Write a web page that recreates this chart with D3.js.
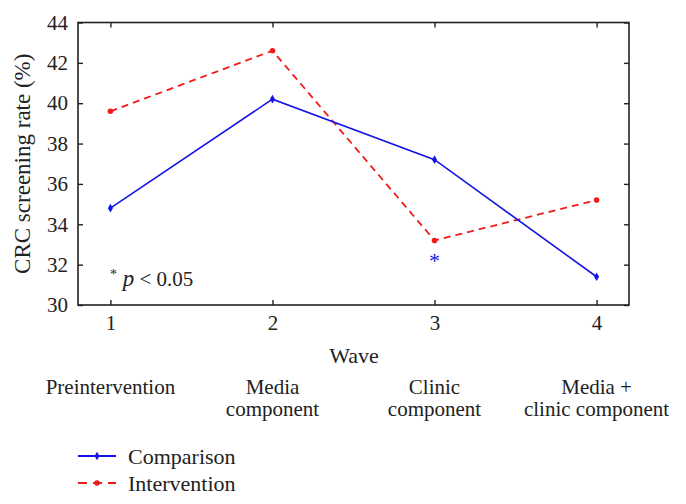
<!DOCTYPE html>
<html>
<head>
<meta charset="utf-8">
<script src="https://cdn.jsdelivr.net/npm/d3@7"></script>
<style>
  html, body { margin: 0; padding: 0; background: #fff; }
  svg text { font-family: "Liberation Serif", "DejaVu Serif", serif; fill: #222; }
</style>
</head>
<body>
<svg id="chart" width="686" height="504"></svg>
<script>
const waves = [1, 2, 3, 4];
const waveLabels = [["Preintervention"], ["Media", "component"], ["Clinic", "component"], ["Media +", "clinic component"]];
const comparison = [34.8, 40.2, 37.2, 31.4];
const intervention = [39.6, 42.6, 33.2, 35.2];
const yTicks = [30, 32, 34, 36, 38, 40, 42, 44];
const seriesNames = ["Comparison", "Intervention"];
const sigWave = 3;
const sigValue = 32.3;

(function () {
const svg = d3.select("#chart");
const pL = 78, pR = 629, pT = 22.5, pB = 305;
const x = d3.scaleLinear().domain([0.8, 4.2]).range([pL, pR]);
const y = d3.scaleLinear().domain([30, 44]).range([pB, pT]);
const blue = "#1414e6", red = "#f01c1c";
const fs = 21;
const ff = "Liberation Serif, DejaVu Serif, serif";

// frame
svg.append("rect").attr("x", pL).attr("y", pT).attr("width", pR - pL).attr("height", pB - pT)
  .attr("fill", "none").attr("stroke", "#222").attr("stroke-width", 1.6);

// axes (ticks inward)
const axB = d3.axisBottom(x).tickValues(waves).tickSize(-5).tickPadding(10).tickFormat(d3.format("d"));
const axT = d3.axisTop(x).tickValues(waves).tickSize(-5).tickFormat("");
const axL = d3.axisLeft(y).tickValues(yTicks).tickSize(-5).tickPadding(10).tickFormat(d3.format("d"));
const axR = d3.axisRight(y).tickValues(yTicks).tickSize(-5).tickFormat("");
function style(g) {
  g.attr("font-family", ff).attr("font-size", fs);
  g.select(".domain").remove();
  g.selectAll(".tick line").attr("stroke", "#222").attr("stroke-width", 1.4);
  g.selectAll(".tick text").attr("font-size", fs).attr("fill", "#222");
}
svg.append("g").attr("transform", `translate(0,${pB})`).call(axB).call(style);
svg.append("g").attr("transform", `translate(0,${pT})`).call(axT).call(style);
svg.append("g").attr("transform", `translate(${pL},0)`).call(axL).call(style);
svg.append("g").attr("transform", `translate(${pR},0)`).call(axR).call(style);

// axis titles
svg.append("text").attr("transform", `translate(30,${(pT + pB) / 2}) rotate(-90)`)
  .attr("text-anchor", "middle").attr("font-size", 23).text("CRC screening rate (%)");
svg.append("text").attr("x", 354).attr("y", 363).attr("text-anchor", "middle").attr("font-size", 22).text("Wave");

// category labels
waveLabels.forEach((lines, i) => {
  const t = svg.append("text").attr("text-anchor", "middle").attr("font-size", 21)
    .attr("x", x(waves[i])).attr("y", 394);
  lines.forEach((ln, j) => t.append("tspan").attr("x", x(waves[i])).attr("dy", j === 0 ? 0 : 22).text(ln));
});

// lines
const line = d3.line().x((d, i) => x(waves[i])).y(d => y(d));
svg.append("path").datum(intervention).attr("d", line).attr("fill", "none")
  .attr("stroke", red).attr("stroke-width", 1.8).attr("stroke-dasharray", "7,5");
svg.append("path").datum(comparison).attr("d", line).attr("fill", "none")
  .attr("stroke", blue).attr("stroke-width", 1.6);

const diamond = d3.symbol().type(d3.symbolDiamond).size(22);
svg.selectAll(".cmp").data(comparison).enter().append("path")
  .attr("transform", (d, i) => `translate(${x(waves[i])},${y(d)})`).attr("d", diamond).attr("fill", blue);
svg.selectAll(".int").data(intervention).enter().append("circle")
  .attr("cx", (d, i) => x(waves[i])).attr("cy", d => y(d)).attr("r", 2.8).attr("fill", red);

// significance
svg.append("text").attr("x", x(sigWave)).attr("y", y(sigValue) + 9).attr("text-anchor", "middle")
  .attr("font-size", 22).style("fill", blue).text("*");
const pt = svg.append("text").attr("x", 110).attr("y", 286).attr("font-size", 21);
pt.append("tspan").attr("font-size", 14).attr("dy", -7).text("*");
pt.append("tspan").attr("dy", 7).attr("font-style", "italic").attr("font-size", 23).text(" p");
pt.append("tspan").text(" < 0.05");

// legend
const legend = [[blue, null, "diamond"], [red, "7,5", "circle"]];
legend.forEach((l, i) => {
  const ly = 456 + i * 27;
  svg.append("line").attr("x1", 78).attr("x2", 116).attr("y1", ly).attr("y2", ly)
    .attr("stroke", l[0]).attr("stroke-width", 1.8).attr("stroke-dasharray", l[1] ? "9,6" : null);
  if (l[2] === "diamond") {
    svg.append("path").attr("transform", `translate(97,${ly})`).attr("d", diamond).attr("fill", l[0]);
  } else {
    svg.append("circle").attr("cx", 97).attr("cy", ly).attr("r", 2.8).attr("fill", l[0]);
  }
  svg.append("text").attr("x", 128).attr("y", ly + 8).attr("font-size", 22).text(seriesNames[i]);
});
})();
</script>
</body>
</html>
